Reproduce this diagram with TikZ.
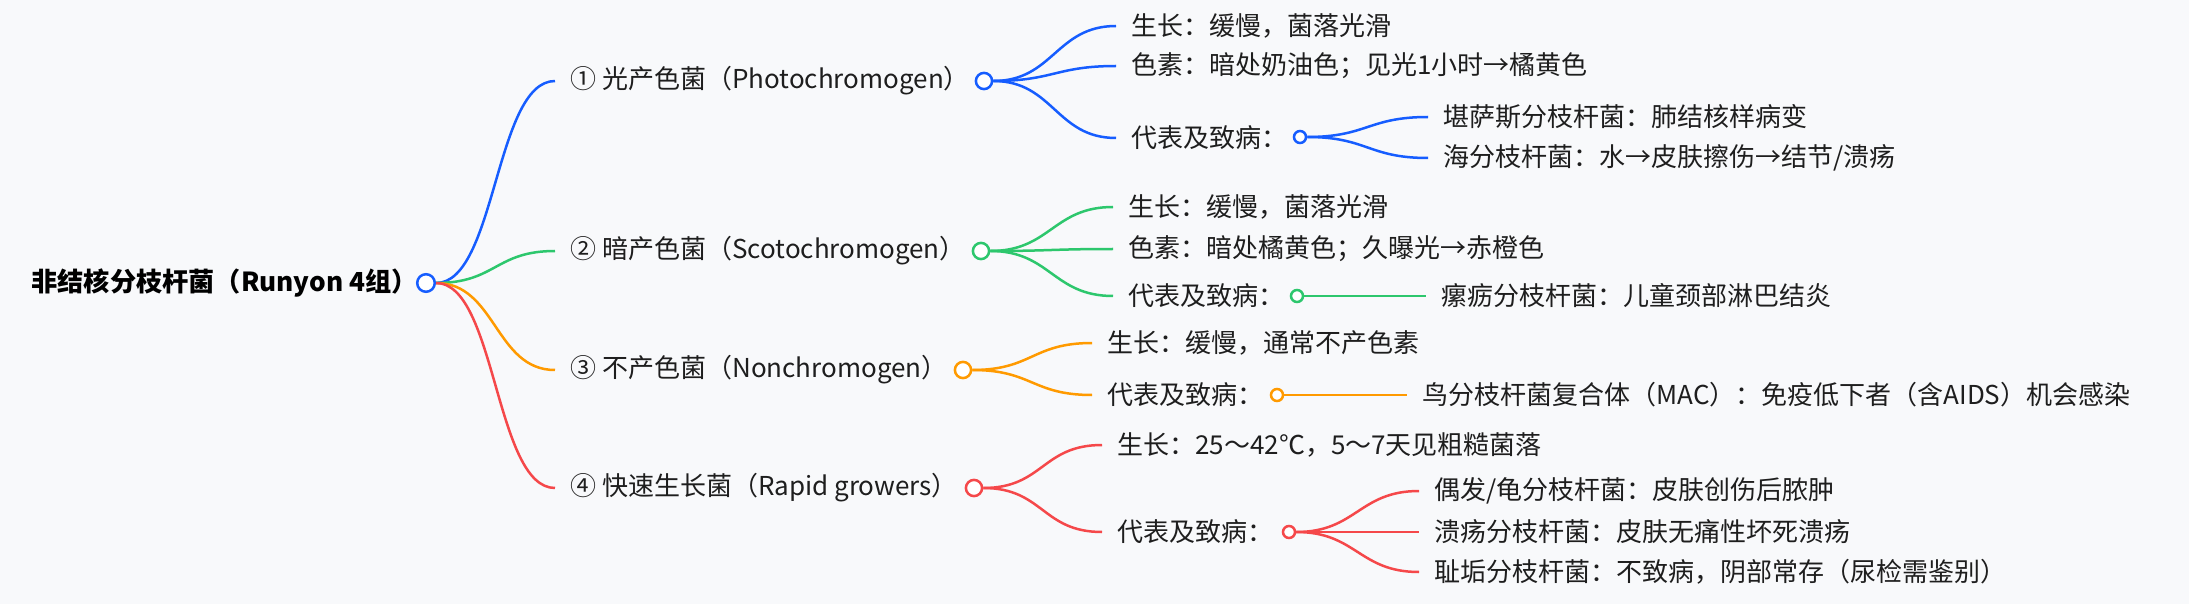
\documentclass[tikz,border=0pt]{standalone}
\usepackage{fontspec}
\setmainfont{Noto Sans CJK SC}
\usetikzlibrary{positioning}

\definecolor{bgc}{HTML}{F8F9FB}
\definecolor{cblue}{HTML}{165DFF}
\definecolor{cgreen}{HTML}{2DC76D}
\definecolor{corange}{HTML}{FF9A00}
\definecolor{cred}{HTML}{F5484A}
\definecolor{ink}{HTML}{1E1E1E}

\begin{document}
\begin{tikzpicture}[
  x=0.5pt, y=-0.5pt,
  font=\fontsize{13}{15}\selectfont,
  txt/.style={anchor=west, inner xsep=7.5pt, inner ysep=0pt, text=ink},
  roottxt/.style={txt, font=\fontsize{13.1}{15}\selectfont\bfseries, text=black},
  dot/.style={circle, draw, fill=white, line width=1.25pt, inner sep=0pt, minimum size=8.1pt},
  bigdot/.style={dot, minimum size=8.8pt},
  smalldot/.style={dot, minimum size=6pt},
  link/.style={line width=1.25pt}
]
\useasboundingbox (0,0) rectangle (2189,604);
\fill[bgc] (0,0) rectangle (2189,604);

% root
\node[roottxt] (root) at (16,283) {非结核分枝杆菌（Runyon 4组）};
\node[bigdot, draw=cblue] (c0) at (426,283) {};

% branch 1
\node[txt] (b1) at (555,81) {① 光产色菌（Photochromogen）};
\node[dot, draw=cblue] (c1) at (984,81) {};
\node[txt] (b1g) at (1116,26) {生长：缓慢，菌落光滑};
\node[txt] (b1p) at (1116,66) {色素：暗处奶油色；见光1小时→橘黄色};
\node[txt] (b1r) at (1116,138) {代表及致病：};
\node[smalldot, draw=cblue] (c1r) at (1300,137) {};
\node[txt] (b1ra) at (1428,117) {堪萨斯分枝杆菌：肺结核样病变};
\node[txt] (b1rb) at (1428,158) {海分枝杆菌：水→皮肤擦伤→结节/溃疡};

% branch 2
\node[txt] (b2) at (555,251) {② 暗产色菌（Scotochromogen）};
\node[dot, draw=cgreen] (c2) at (981,251) {};
\node[txt] (b2g) at (1113,207) {生长：缓慢，菌落光滑};
\node[txt] (b2p) at (1113,249) {色素：暗处橘黄色；久曝光→赤橙色};
\node[txt] (b2r) at (1113,296) {代表及致病：};
\node[smalldot, draw=cgreen] (c2r) at (1297,296) {};
\node[txt] (b2ra) at (1426,296) {瘰疬分枝杆菌：儿童颈部淋巴结炎};

% branch 3
\node[txt] (b3) at (555,370) {③ 不产色菌（Nonchromogen）};
\node[dot, draw=corange] (c3) at (963,370) {};
\node[txt] (b3g) at (1092,343) {生长：缓慢，通常不产色素};
\node[txt] (b3r) at (1092,395) {代表及致病：};
\node[smalldot, draw=corange] (c3r) at (1277,395) {};
\node[txt] (b3ra) at (1407,395) {鸟分枝杆菌复合体（MAC）：免疫低下者（含AIDS）机会感染};

% branch 4
\node[txt] (b4) at (555,488) {④ 快速生长菌（Rapid growers）};
\node[dot, draw=cred] (c4) at (974,488) {};
\node[txt] (b4g) at (1102,445) {生长：25～42℃，5～7天见粗糙菌落};
\node[txt] (b4r) at (1102,532) {代表及致病：};
\node[smalldot, draw=cred] (c4r) at (1289,532) {};
\node[txt] (b4ra) at (1419,491) {偶发/龟分枝杆菌：皮肤创伤后脓肿};
\node[txt] (b4rb) at (1419,532) {溃疡分枝杆菌：皮肤无痛性坏死溃疡};
\node[txt] (b4rc) at (1419,572) {耻垢分枝杆菌：不致病，阴部常存（尿检需鉴别）};

% connectors
\draw[link, cblue] (c0.east) .. controls +(60,0) and +(-60,0) .. (b1.west);
\draw[link, cgreen] (c0.east) .. controls +(60,0) and +(-60,0) .. (b2.west);
\draw[link, corange] (c0.east) .. controls +(60,0) and +(-60,0) .. (b3.west);
\draw[link, cred] (c0.east) .. controls +(60,0) and +(-60,0) .. (b4.west);

\foreach \t in {b1g,b1p,b1r} \draw[link, cblue] (c1.east) .. controls +(60,0) and +(-60,0) .. (\t.west);
\foreach \t in {b1ra,b1rb} \draw[link, cblue] (c1r.east) .. controls +(60,0) and +(-60,0) .. (\t.west);
\foreach \t in {b2g,b2p,b2r} \draw[link, cgreen] (c2.east) .. controls +(60,0) and +(-60,0) .. (\t.west);
\draw[link, cgreen] (c2r.east) -- (b2ra.west);
\foreach \t in {b3g,b3r} \draw[link, corange] (c3.east) .. controls +(60,0) and +(-60,0) .. (\t.west);
\draw[link, corange] (c3r.east) -- (b3ra.west);
\foreach \t in {b4g,b4r} \draw[link, cred] (c4.east) .. controls +(60,0) and +(-60,0) .. (\t.west);
\foreach \t in {b4ra,b4rb,b4rc} \draw[link, cred] (c4r.east) .. controls +(60,0) and +(-60,0) .. (\t.west);

\end{tikzpicture}
\end{document}
